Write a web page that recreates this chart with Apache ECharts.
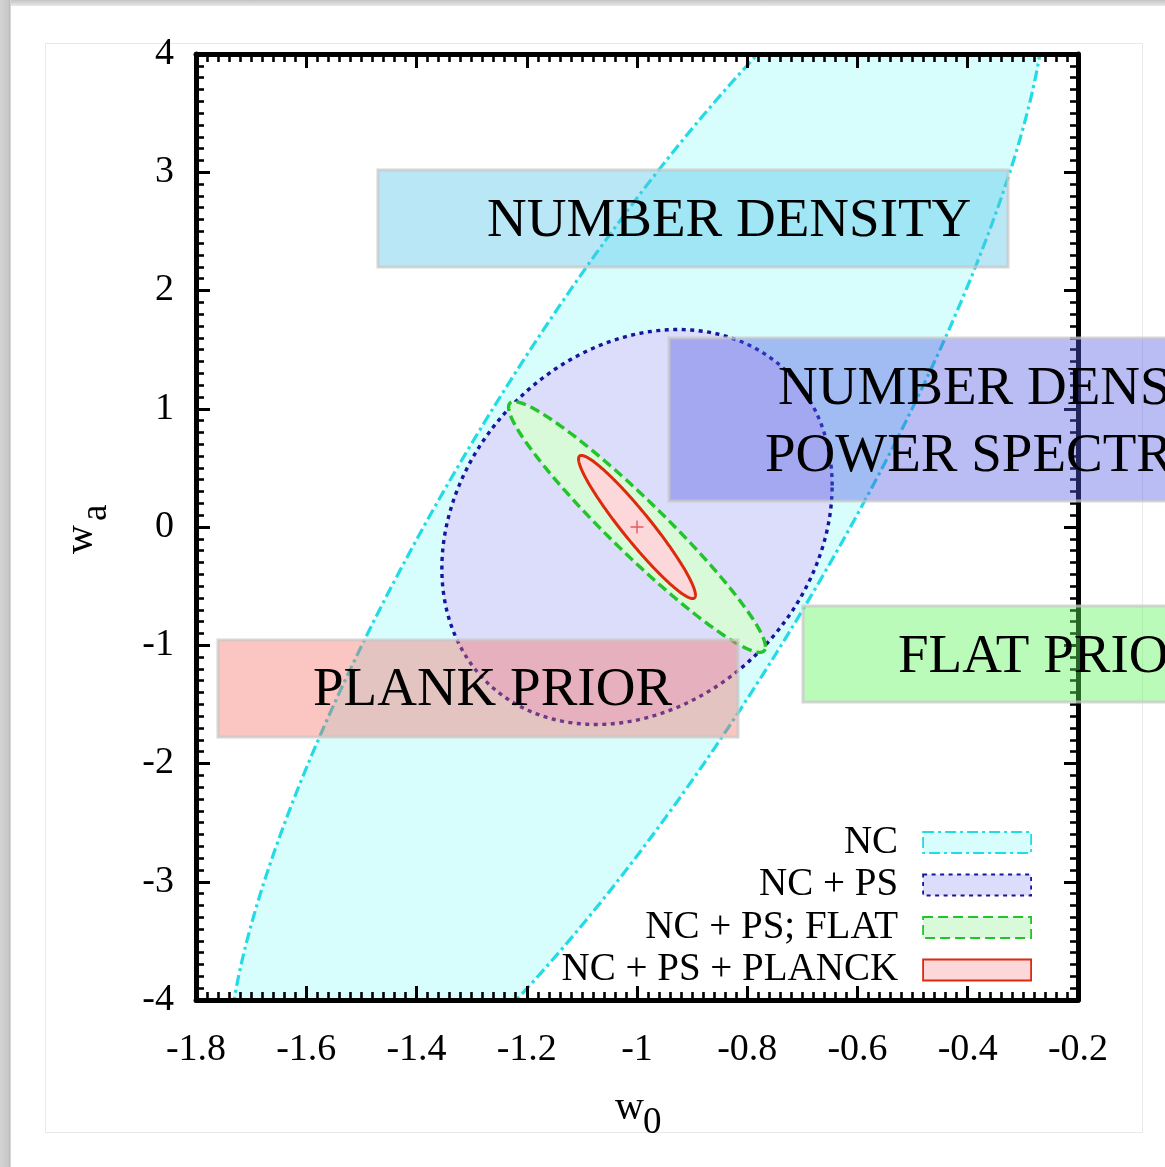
<!DOCTYPE html>
<html>
<head>
<meta charset="utf-8">
<title>w0 - wa forecast contours</title>
<script src="https://cdn.jsdelivr.net/npm/echarts@6/dist/echarts.min.js"></script>
<style>
  html, body { margin: 0; padding: 0; background: #ffffff; }
  #page { position: relative; width: 1165px; height: 1167px; overflow: hidden; background: #ffffff; }
  #edgeTop { position: absolute; left: 0; top: 0; width: 1165px; height: 6px; background: linear-gradient(#c4c4c4, #e9e9e9); }
  #edgeLeft { position: absolute; left: 0; top: 0; width: 11px; height: 1167px; background: linear-gradient(to right, #d4d4d4, #c8c8c8 75%, #b9b9b9 90%, #eeeeee); }
  #frame { position: absolute; left: 45px; top: 43px; width: 1096px; height: 1088px; border: 1px solid #e9e9e9; }
  #chart { position: absolute; left: 0; top: 0; width: 1165px; height: 1167px; }
</style>
</head>
<body>
<div id="page">
  <div id="edgeTop"></div>
  <div id="edgeLeft"></div>
  <div id="frame"></div>
  <div id="chart"></div>
</div>
<script>
// Fisher-forecast confidence ellipses in the (w0, wa) plane.
const contourNames = ['NC', 'NC + PS', 'NC + PS; FLAT', 'NC + PS + PLANCK'];
const centerW0 = [-1.0, -1.0, -1.0, -1.0];
const centerWa = [0.0, 0.0, 0.0, 0.0];
const sigmaW0 = [0.742, 0.354, 0.233, 0.106];
const sigmaWa = [5.33, 1.67, 1.06, 0.605];
const correlation = [0.853, 0.21, -0.955, -0.95];

// fiducial model
const fiducialPoint = [[-1.0, 0.0]];

// axis ticks
const xTickLabels = ['-1.8', '-1.6', '-1.4', '-1.2', '-1', '-0.8', '-0.6', '-0.4', '-0.2'];
const yTickLabels = ['-4', '-3', '-2', '-1', '0', '1', '2', '3', '4'];
const X_MIN = -1.8, X_MAX = -0.2, X_STEP = 0.2;
const Y_MIN = -4, Y_MAX = 4, Y_STEP = 1;

// annotation captions
const captionDensity = ['NUMBER DENSITY'];
const captionSpectrum = ['NUMBER DENSITY +', 'POWER SPECTRUM'];
const captionFlat = ['FLAT PRIOR'];
const captionPlanck = ['PLANK PRIOR'];

const SERIF = '"Liberation Serif", "Times New Roman", Times, serif';

// contour styles
const fills = ['#d7fdfd', '#dcdcfb', '#d8fad8', '#fdd8db'];
const strokes = ['#22dbe5', '#16169c', '#22c42a', '#dc2a0c'];
const dashes = [[11, 4, 3, 4], [4, 4.5], [10, 5], null];
const widths = [3.2, 3.4, 3.4, 3];

function ellipseRenderer(idx) {
  return function (params, api) {
    const cx = api.value(0), cy = api.value(1);
    const sx = api.value(2), sy = api.value(3), r = api.value(4);
    const k = Math.sqrt(1 - r * r);
    const pts = [];
    const n = 360;
    for (let i = 0; i < n; i++) {
      const t = 2 * Math.PI * i / n;
      const c = Math.cos(t), s = Math.sin(t);
      pts.push(api.coord([cx + sx * c, cy + sy * (r * c + k * s)]));
    }
    return {
      type: 'polygon',
      shape: { points: pts },
      style: {
        fill: fills[idx],
        stroke: strokes[idx],
        lineWidth: widths[idx],
        lineDash: dashes[idx] || null
      }
    };
  };
}

const contourSeries = contourNames.map((name, i) => ({
  name: name,
  type: 'custom',
  coordinateSystem: 'cartesian2d',
  clip: true,
  z: 2,
  itemStyle: { color: fills[i], borderColor: strokes[i] },
  data: [[centerW0[i], centerWa[i], sigmaW0[i], sigmaWa[i], correlation[i]]],
  dimensions: ['w0', 'wa', 'sw0', 'swa', 'rho'],
  encode: { x: 0, y: 1 },
  renderItem: ellipseRenderer(i),
  silent: true
}));

const axisBase = {
  type: 'value',
  z: 3,
  splitLine: { show: false },
  axisLine: { show: true, onZero: false, lineStyle: { color: '#000', width: 5 } },
  axisTick: { show: true, inside: true, length: 14, lineStyle: { color: '#000', width: 3 } },
  minorTick: { show: true, splitNumber: 10, length: 8, lineStyle: { color: '#000', width: 2.6 } },
  minorSplitLine: { show: false }
};

const xLabel = {
  show: true, margin: 31, color: '#000', fontFamily: SERIF, fontSize: 38,
  formatter: v => xTickLabels[Math.round((v - X_MIN) / X_STEP)]
};
const yLabel = {
  show: true, margin: 22, color: '#000', fontFamily: SERIF, fontSize: 38,
  padding: [5, 0, 0, 0],
  formatter: v => yTickLabels[Math.round((v - Y_MIN) / Y_STEP)]
};

function box(x, y, w, h, fill) {
  return {
    type: 'rect', z: 100, silent: true,
    shape: { x: x, y: y, width: w, height: h },
    style: { fill: fill, stroke: 'rgba(200,200,200,0.75)', lineWidth: 3 }
  };
}
function caption(text, x, y) {
  return {
    type: 'text', z: 101, silent: true, x: x, y: y,
    style: { text: text, fill: '#000', font: '55px ' + SERIF, align: 'left', verticalAlign: 'middle' }
  };
}

const option = {
  animation: false,
  backgroundColor: 'transparent',
  grid: { left: 196, right: 87, top: 54, bottom: 167, containLabel: false },
  xAxis: [
    Object.assign({}, axisBase, { position: 'bottom', min: X_MIN, max: X_MAX, interval: X_STEP, axisLabel: xLabel }),
    Object.assign({}, axisBase, { position: 'top', min: X_MIN, max: X_MAX, interval: X_STEP, axisLabel: { show: false } })
  ],
  yAxis: [
    Object.assign({}, axisBase, { position: 'left', min: Y_MIN, max: Y_MAX, interval: Y_STEP, axisLabel: yLabel }),
    Object.assign({}, axisBase, { position: 'right', min: Y_MIN, max: Y_MAX, interval: Y_STEP, axisLabel: { show: false } })
  ],
  legend: {
    orient: 'vertical',
    right: 133,
    top: 823,
    padding: 0,
    align: 'right',
    icon: 'rect',
    itemWidth: 108,
    itemHeight: 21,
    itemGap: 3.5,
    selectedMode: false,
    textStyle: { fontFamily: SERIF, fontSize: 39, color: '#000', padding: [0, 20, 0, 0] },
    data: contourNames.map((name, i) => ({
      name: name,
      icon: 'rect',
      itemStyle: {
        color: fills[i], borderColor: strokes[i], borderWidth: 1.8,
        borderType: dashes[i] ? dashes[i] : 'solid'
      }
    }))
  },
  series: contourSeries.concat([{
    name: 'fiducial',
    type: 'scatter',
    z: 6,
    data: fiducialPoint,
    symbol: 'path://M5,0L5,10M0,5L10,5',
    symbolSize: 13,
    itemStyle: { color: 'transparent', borderColor: '#e03a3a', borderWidth: 1.4 },
    silent: true
  }]),
  graphic: [
    // axis titles
    { type: 'text', z: 50, silent: true, x: 615, y: 1108,
      style: { text: 'w', fill: '#000', font: '40px ' + SERIF, align: 'left', verticalAlign: 'middle' } },
    { type: 'text', z: 50, silent: true, x: 643, y: 1123,
      style: { text: '0', fill: '#000', font: '37px ' + SERIF, align: 'left', verticalAlign: 'middle' } },
    { type: 'text', z: 50, silent: true, x: 81, y: 554, rotation: Math.PI / 2,
      style: { text: 'w', fill: '#000', font: '40px ' + SERIF, align: 'left', verticalAlign: 'middle' } },
    { type: 'text', z: 50, silent: true, x: 96, y: 521, rotation: Math.PI / 2,
      style: { text: 'a', fill: '#000', font: '37px ' + SERIF, align: 'left', verticalAlign: 'middle' } },

    // annotation boxes
    box(378, 170, 630, 97, 'rgba(80,195,230,0.40)'),
    caption(captionDensity[0], 487, 222),

    box(669, 338, 520, 163, 'rgba(80,90,225,0.40)'),
    caption(captionSpectrum[0], 778, 390),
    caption(captionSpectrum[1], 765, 457),

    box(803, 606, 420, 96, 'rgba(90,245,90,0.42)'),
    caption(captionFlat[0], 898, 658),

    box(218, 640, 520, 97, 'rgba(245,110,100,0.40)'),
    caption(captionPlanck[0], 313, 691)
  ]
};

const chart = echarts.init(document.getElementById('chart'), null, { renderer: 'canvas' });
chart.setOption(option);
</script>
</body>
</html>
